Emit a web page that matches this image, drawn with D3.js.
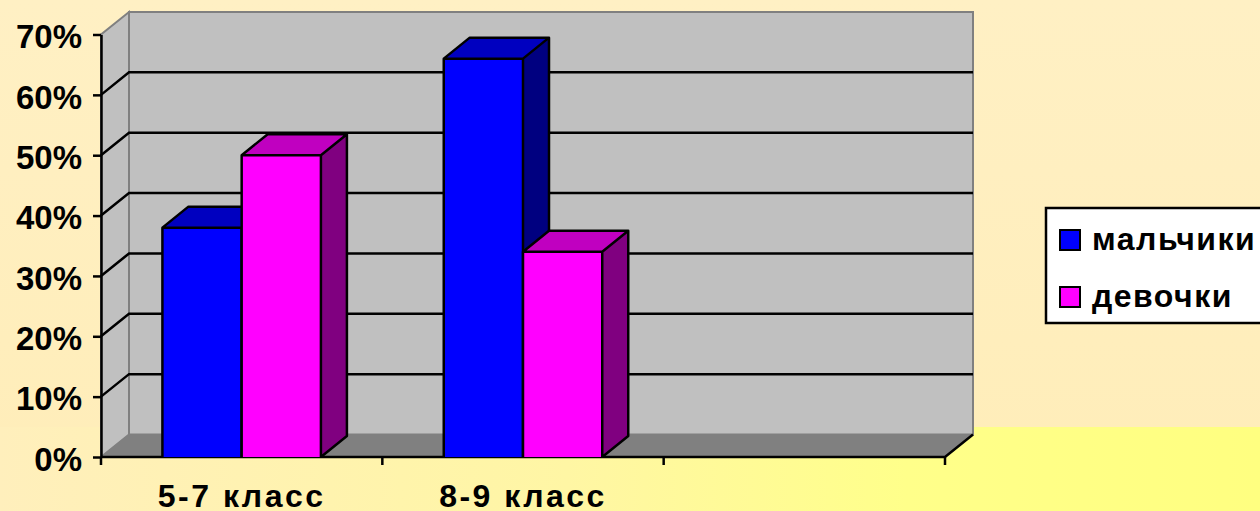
<!DOCTYPE html>
<html>
<head>
<meta charset="utf-8">
<script src="https://cdn.jsdelivr.net/npm/d3@7"></script>
<style>
  body { margin: 0; overflow: hidden; }
  svg { display: block; font-family: "Liberation Sans", Arial, sans-serif; font-weight: bold; }
</style>
</head>
<body>
<svg id="chart" width="1260" height="511"></svg>
<script>
// chart data
const categories = ['5-7 класс', '8-9 класс', ''];
const series = ['мальчики', 'девочки'];
const boys = [0.38, 0.66, null];
const girls = [0.50, 0.34, null];
const yTicks = [0, 0.1, 0.2, 0.3, 0.4, 0.5, 0.6, 0.7];

const colors = {
    'мальчики': { front: '#0000ff', top: '#0000c0', side: '#000080' },
    'девочки': { front: '#ff00ff', top: '#c000c0', side: '#800080' }
};

const svg = d3.select('#chart');
const W = 1260, H = 511;

// background gradients
const defs = svg.append('defs');
const bgV = defs.append('linearGradient').attr('id', 'bgV')
    .attr('x1', 0).attr('y1', 0).attr('x2', 0).attr('y2', 1);
bgV.append('stop').attr('offset', 0).attr('stop-color', '#fff0c4');
bgV.append('stop').attr('offset', 1).attr('stop-color', '#ffedb8');

const bgH = defs.append('linearGradient').attr('id', 'bgH')
    .attr('x1', 0).attr('y1', 0).attr('x2', 1).attr('y2', 0);
bgH.append('stop').attr('offset', 0).attr('stop-color', '#ffefbc');
bgH.append('stop').attr('offset', 0.45).attr('stop-color', '#fff6a4');
bgH.append('stop').attr('offset', 0.72).attr('stop-color', '#ffff8a');
bgH.append('stop').attr('offset', 1).attr('stop-color', '#ffff80');

svg.append('rect').attr('width', W).attr('height', H).attr('fill', 'url(#bgV)');
svg.append('rect').attr('y', 427).attr('width', W).attr('height', H - 427).attr('fill', 'url(#bgH)');

// scales
const x0 = 101, x1 = 945;
const y = d3.scaleLinear().domain([0, 0.7]).range([457, 34.5]);
const x = d3.scaleBand().domain(categories).range([x0, x1]);
const xs = d3.scaleBand().domain(series).range([0, x.bandwidth()]).paddingOuter(0.775);

// depth offsets
const DX = 28, DY = -22.5;
const BDX = 26, BDY = -21;

const pts = p => p.map(d => d.join(',')).join(' ');
const yTop = y(0.7), yBot = y(0);

// walls
const walls = svg.append('g');
walls.append('polygon')
    .attr('points', pts([[x0, yBot], [x0, yTop], [x0 + DX, yTop + DY], [x0 + DX, yBot + DY]]))
    .attr('fill', '#c0c0c0').attr('stroke', '#808080').attr('stroke-width', 2);
walls.append('rect')
    .attr('x', x0 + DX).attr('y', yTop + DY)
    .attr('width', x1 - x0).attr('height', yBot - yTop)
    .attr('fill', '#c0c0c0').attr('stroke', '#808080').attr('stroke-width', 2);
walls.append('polygon')
    .attr('points', pts([[x0, yBot], [x1, yBot], [x1 + DX, yBot + DY], [x0 + DX, yBot + DY]]))
    .attr('fill', '#808080');

// gridlines on back and side wall
const grid = yTicks.filter(t => t > 0 && t < 0.7);
svg.append('g').selectAll('path').data(grid).join('path')
    .attr('d', t => `M${x0},${y(t)}L${x0 + DX},${y(t) + DY}L${x1 + DX},${y(t) + DY}`)
    .attr('fill', 'none').attr('stroke', '#000').attr('stroke-width', 2.5);

// floor front edge and right edge
svg.append('path')
    .attr('d', `M${x0},${yBot}L${x1},${yBot}L${x1 + DX},${yBot + DY}`)
    .attr('fill', 'none').attr('stroke', '#000').attr('stroke-width', 2.5);

// bars
const barData = [];
categories.forEach((c, i) => {
    [boys, girls].forEach((vals, j) => {
        if (vals[i] != null) barData.push({ cat: c, s: series[j], v: vals[i] });
    });
});

const bars = svg.append('g').selectAll('g').data(barData).join('g');
bars.each((d, i, n) => {
    const g = d3.select(n[i]);
    const bx = x(d.cat) + xs(d.s), bw = xs.bandwidth();
    const by = y(d.v), b0 = y(0);
    const c = colors[d.s];
    g.append('polygon')
        .attr('points', pts([[bx + bw, b0], [bx + bw, by], [bx + bw + BDX, by + BDY], [bx + bw + BDX, b0 + BDY]]))
        .attr('fill', c.side);
    g.append('polygon')
        .attr('points', pts([[bx, by], [bx + bw, by], [bx + bw + BDX, by + BDY], [bx + BDX, by + BDY]]))
        .attr('fill', c.top);
    g.append('rect')
        .attr('x', bx).attr('y', by).attr('width', bw).attr('height', b0 - by)
        .attr('fill', c.front);
    g.append('path')
        .attr('d', `M${bx},${b0}V${by}H${bx + bw}V${b0}M${bx},${by}L${bx + BDX},${by + BDY}H${bx + bw + BDX}L${bx + bw},${by}M${bx + bw + BDX},${by + BDY}V${b0 + BDY}L${bx + bw},${b0}`)
        .attr('fill', 'none').attr('stroke', '#000').attr('stroke-width', 2.5)
        .attr('stroke-linejoin', 'round');
});

// y axis
const yAxis = svg.append('g')
    .attr('transform', `translate(${x0},0)`)
    .call(d3.axisLeft(y).tickValues(yTicks).tickFormat(d3.format('.0%'))
        .tickSize(8).tickSizeOuter(0).tickPadding(11));
yAxis.select('.domain').attr('stroke', '#000').attr('stroke-width', 2.5);
yAxis.selectAll('.tick line').attr('stroke', '#000').attr('stroke-width', 2.5);
yAxis.selectAll('text')
    .attr('dy', '0.4em')
    .style('font-size', '33px').style('font-weight', 'bold')
    .style('font-family', '"Liberation Sans", Arial, sans-serif')
    .attr('fill', '#000');

// x axis labels
const xAxis = svg.append('g')
    .attr('transform', `translate(0,${yBot})`)
    .call(d3.axisBottom(x).tickSize(0).tickPadding(27));
xAxis.select('.domain').remove();
xAxis.selectAll('text')
    .style('font-size', '32px').style('font-weight', 'bold')
    .style('font-family', '"Liberation Sans", Arial, sans-serif')
    .style('letter-spacing', '2.5px')
    .attr('fill', '#000');

// x axis boundary ticks
const bounds = categories.map(c => x(c)).concat([x.range()[1]]);
svg.append('g').selectAll('line').data(bounds).join('line')
    .attr('x1', d => d).attr('x2', d => d)
    .attr('y1', yBot).attr('y2', yBot + 8)
    .attr('stroke', '#000').attr('stroke-width', 2.5);

// legend
const legend = svg.append('g').attr('transform', 'translate(1046,208)');
legend.append('rect')
    .attr('width', 240).attr('height', 115)
    .attr('fill', '#fff').attr('stroke', '#000').attr('stroke-width', 2.5);
const items = legend.selectAll('g').data(series).join('g')
    .attr('transform', (d, i) => `translate(14,${22 + i * 57})`);
items.append('rect')
    .attr('width', 20).attr('height', 20)
    .attr('fill', d => colors[d].front)
    .attr('stroke', '#000').attr('stroke-width', 2);
items.append('text')
    .attr('x', 32).attr('y', 20)
    .style('font-size', '32px').style('letter-spacing', '1.5px')
    .text(d => d);
</script>
</body>
</html>
